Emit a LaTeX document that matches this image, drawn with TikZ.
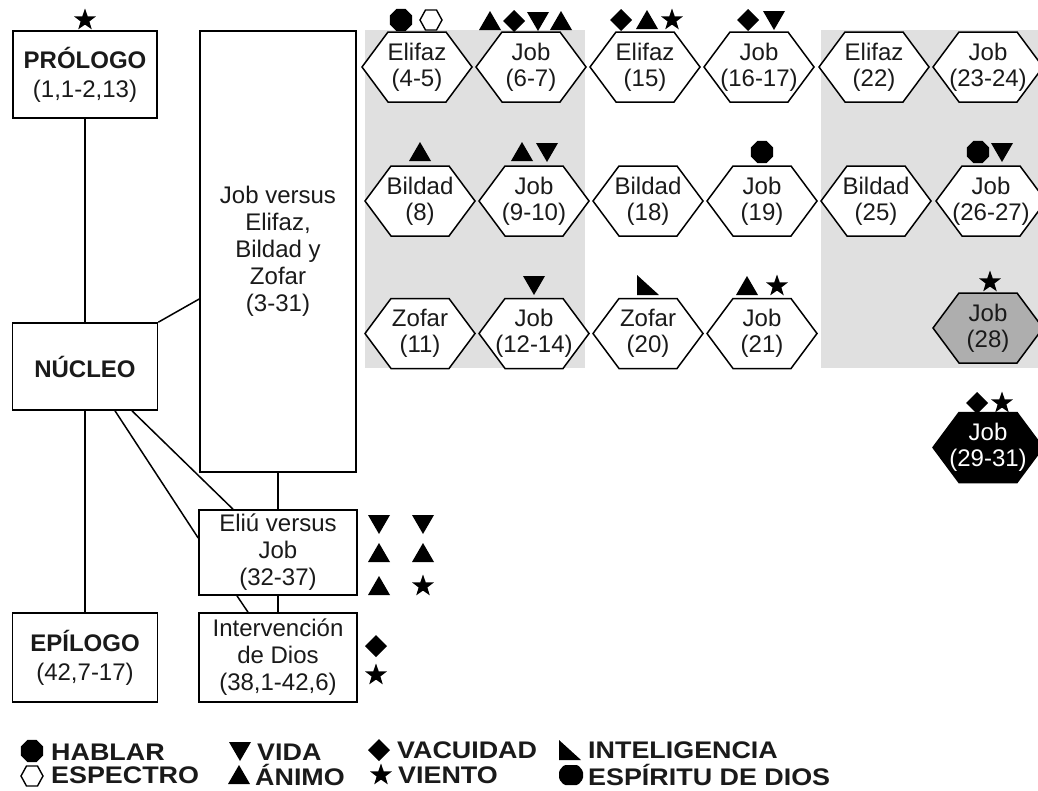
\documentclass[tikz,border=0pt]{standalone}
\usepackage{fontspec}
\setmainfont{Liberation Sans}
\newfontfamily\legfont[FakeStretch=1.12]{Liberation Sans}
\usetikzlibrary{calc}
\definecolor{bgg}{RGB}{224,224,224}
\definecolor{midg}{RGB}{174,174,174}
\definecolor{txt}{RGB}{26,26,26}

% hexagon: name, x, y, fill, text colour, text
\newcommand{\hx}[6]{%
  \path[hexline, fill=#4] ({#2-55},#3) -- ({#2-29},{#3-35}) -- ({#2+29},{#3-35}) -- ({#2+55},#3) -- ({#2+29},{#3+35}) -- ({#2-29},{#3+35}) -- cycle;
  \node[hextext, text=#5] (#1) at (#2,#3) {#6};}
% symbols
\newcommand{\sOct}[2]{\fill[shift={(#1,#2)}] (22.5:12) -- (67.5:12) -- (112.5:12) -- (157.5:12) -- (202.5:12) -- (247.5:12) -- (292.5:12) -- (337.5:12) -- cycle;}
\newcommand{\sUp}[2]{\fill[shift={(#1,#2)}] (-11,9) -- (11,9) -- (0,-10) -- cycle;}
\newcommand{\sDown}[2]{\fill[shift={(#1,#2)}] (-11,-9) -- (11,-9) -- (0,10) -- cycle;}
\newcommand{\sDia}[2]{\fill[shift={(#1,#2)}] (0,-11) -- (11,0) -- (0,11) -- (-11,0) -- cycle;}
\newcommand{\sStar}[2]{\fill[shift={(#1,#2)}] (270:11.5) -- (306:4.6) -- (342:11.5) -- (18:4.6) -- (54:11.5) -- (90:4.6) -- (126:11.5) -- (162:4.6) -- (198:11.5) -- (234:4.6) -- cycle;}
\newcommand{\sInt}[2]{\fill[shift={(#1,#2)}] (-11,-10) -- (-11,10) -- (11,10) -- cycle;}
\newcommand{\sHexo}[2]{\draw[shift={(#1,#2)}, line width=1.4pt] (-11,0) -- (-5.5,-10) -- (5.5,-10) -- (11,0) -- (5.5,10) -- (-5.5,10) -- cycle;}
\newcommand{\sSpirit}[2]{\fill[shift={(#1,#2)}, rounded corners=1.5pt] (-12,-4) -- (-7,-10) -- (7,-10) -- (12,-4) -- (12,4) -- (7,10) -- (-7,10) -- (-12,4) -- cycle;}

\begin{document}
\begin{tikzpicture}[x=1pt,y=-1pt, line join=miter,
  box/.style={draw, line width=1.6pt, fill=white, align=center, inner sep=0pt, text=txt, font=\fontsize{24}{27}\selectfont},
  hexline/.style={draw, line width=1.5pt},
  hextext/.style={align=center, inner sep=0pt, font=\fontsize{24}{26}\selectfont},
  link/.style={line width=1.5pt},
  legend/.style={anchor=west, inner sep=0pt, text=txt, font=\legfont\fontsize{24}{28}\selectfont\bfseries}]
\useasboundingbox (0,0) rectangle (1038,790);

% grey bands
\fill[bgg] (365,30) rectangle (585,368);
\fill[bgg] (821,30) rectangle (1040,368);

% boxes
\node[box, minimum width=144pt, minimum height=87pt] (pro) at (85,74.5) {\textbf{PRÓLOGO}\\[2pt](1,1-2,13)};
\node[box, minimum width=145pt, minimum height=87pt] (nuc) at (85,366.5) {\textbf{NÚCLEO}};
\node[box, minimum width=145pt, minimum height=89pt] (epi) at (85,657.5) {\textbf{EPÍLOGO}\\[2pt](42,7-17)};
\node[box, minimum width=156pt, minimum height=441pt] (jvs) at (278,251.5) {Job versus\\Elifaz,\\Bildad y\\Zofar\\(3-31)};
\node[box, minimum width=158pt, minimum height=85pt] (eli) at (278,552.5) {Eliú versus\\Job\\(32-37)};
\node[box, minimum width=158pt, minimum height=89pt] (int) at (278,657.5) {Intervención\\de Dios\\(38,1-42,6)};

% connectors
\draw[link] (pro) -- (nuc);
\draw[link] (nuc) -- (epi);
\draw[link] (nuc.north east) -- ([yshift=-47.5pt]jvs.west);
\draw[link] ([xshift=30pt]nuc.south) -- ([yshift=14.5pt]eli.west);
\draw[link] ([xshift=47pt]nuc.south) -- ([xshift=-45pt]eli.north);
\draw[link] (jvs) -- (eli);
\draw[link] (eli) -- (int);
\draw[link] ([xshift=-41pt]eli.south) -- ([xshift=-30pt]int.north);

% hexagons row 1
\hx{h1}{417}{67}{white}{txt}{Elifaz\\(4-5)}
\hx{h2}{531}{67}{white}{txt}{Job\\(6-7)}
\hx{h3}{645}{67}{white}{txt}{Elifaz\\(15)}
\hx{h4}{759}{67}{white}{txt}{Job\\(16-17)}
\hx{h5}{874}{67}{white}{txt}{Elifaz\\(22)}
\hx{h6}{988}{67}{white}{txt}{Job\\(23-24)}
% row 2
\hx{h7}{420}{201}{white}{txt}{Bildad\\(8)}
\hx{h8}{534}{201}{white}{txt}{Job\\(9-10)}
\hx{h9}{648}{201}{white}{txt}{Bildad\\(18)}
\hx{h10}{762}{201}{white}{txt}{Job\\(19)}
\hx{h11}{876}{201}{white}{txt}{Bildad\\(25)}
\hx{h12}{991}{201}{white}{txt}{Job\\(26-27)}
% row 3
\hx{h13}{420}{333.5}{white}{txt}{Zofar\\(11)}
\hx{h14}{534}{333.5}{white}{txt}{Job\\(12-14)}
\hx{h15}{648}{333.5}{white}{txt}{Zofar\\(20)}
\hx{h16}{762}{333.5}{white}{txt}{Job\\(21)}
\hx{h17}{988}{328}{midg}{txt}{Job\\(28)}
\hx{h18}{988}{447.5}{black}{white}{Job\\(29-31)}

% symbols over hexagons and boxes
\sStar{85}{20}
\sOct{401}{20} \sHexo{431}{20}
\sUp{490}{21} \sDia{514}{21} \sDown{538}{21} \sUp{561}{21}
\sDia{621}{20} \sUp{647}{20} \sStar{672}{20}
\sDia{748}{20} \sDown{774}{20}
\sUp{420}{152}
\sUp{522}{152} \sDown{547}{152}
\sOct{762}{152}
\sOct{978}{152} \sDown{1002}{152}
\sDown{534}{285}
\sInt{648}{285}
\sUp{747}{286} \sStar{777}{286}
\sStar{990}{282}
\sDia{977}{403} \sStar{1002}{403}
\sDown{379}{524} \sDown{423}{524}
\sUp{379}{553} \sUp{423}{553}
\sUp{379}{586} \sStar{423}{586}
\sDia{376}{646}
\sStar{376}{675}

% legend
\sOct{32}{751}   \node[legend] (l1) at (51,752) {HABLAR};
\sDown{240}{751} \node[legend] (l2) at (257,752) {VIDA};
\sDia{379}{750}  \node[legend] (l3) at (397,750) {VACUIDAD};
\sInt{570}{750}  \node[legend] (l4) at (588,750) {INTELIGENCIA};
\sHexo{32}{776}  \node[legend] (l5) at (51,775) {ESPECTRO};
\sUp{239}{775}   \node[legend] (l6) at (255,775) {ÁNIMO};
\sStar{381}{775} \node[legend] (l7) at (398,775) {VIENTO};
\sSpirit{571}{775} \node[legend] (l8) at (588,775) {ESPÍRITU DE DIOS};
\end{tikzpicture}
\end{document}
